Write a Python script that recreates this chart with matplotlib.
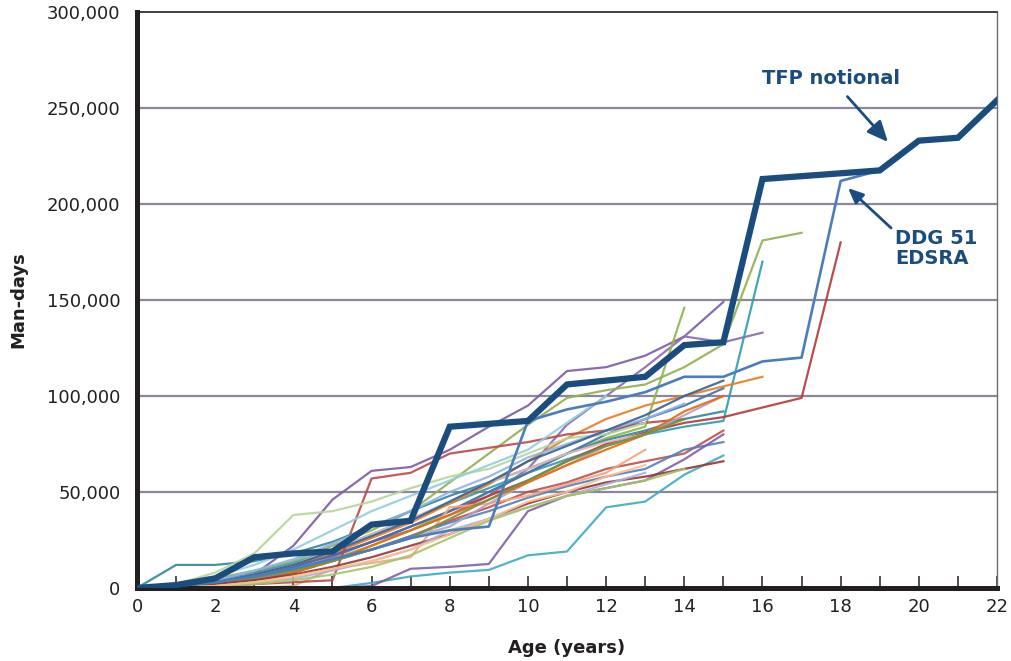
import matplotlib
matplotlib.use("Agg")
import matplotlib.pyplot as plt
from matplotlib.ticker import FuncFormatter, MultipleLocator

# ---- data (thousands of man-days by age in years) ----
tfp_notional = [0, 1.5, 5, 16, 18, 19, 33, 35, 84, 85.5, 87, 106, 108, 110, 126.5,
                128, 213, 214.5, 216, 217.5, 233, 234.5, 254]
ddg51_edsra = [0, 1, 3, 6, 10, 15, 20, 26, 30, 32, 87, 93, 97, 102, 110, 110,
               118, 120, 212, 217.5]

ships = [
    [0, 1, 3, 7, 22, 46, 61, 63, 72, 84, 95, 113, 115, 121, 131, 149],
    [0, 0, 2, 5, 9, 16, 24, 30, 38, 48, 62, 85, 100, 115, 131, 128, 133],
    [0, 2, 5, 9, 14, 22, 30, 40, 55, 70, 85, 99, 103, 106, 115, 127, 181, 185],
    [0, 2, 4, 8, 13, 20, 28, 36, 44, 52, 60, 67, 74, 80, 84, 87, 170],
    [0, 1, 3, 6, 11, 17, 24, 32, 40, 48, 56, 66, 75, 81, 86, 89, 94, 99, 180],
    [0, 1, 3, 7, 12, 18, 26, 34, 44, 54, 66, 78, 88, 95, 100, 105, 110],
    [0, 1, 3, 6, 10, 15, 22, 30, 40, 50, 60, 70, 78, 84, 146],
    [0, 1, 3, 6, 11, 17, 24, 32, 40, 50, 60, 70, 80, 88, 95, 104],
    [0, 0, 1, 4, 8, 14, 20, 27, 35, 42, 50, 55, 62, 66, 70, 82],
    [0, 1, 2, 5, 9, 14, 20, 27, 34, 40, 47, 53, 58, 62, 72, 76],
    [0, 0, 0, 0, 0, 0, 2.6, 6, 8, 9.4, 17, 19, 42, 45, 59, 69],
    [0, 0, 0, 0, 0, 0, 1, 10, 11, 12.5, 40, 48, 52, 56, 67, 80],
    [0, 0, 0, 0, 1, 10, 13, 16, 42, 44, 48, 54, 60, 72],
    [0, 0, 1, 2, 3, 4, 57, 60, 70, 73, 76, 80, 82, 86, 88],
    [0, 12, 12, 14, 18, 24, 32, 40, 48, 55, 62, 70, 77, 82, 88, 92],
    [0, 2, 8, 18, 38, 40, 45, 52, 58, 62, 70, 78, 80, 86],
    [0, 1, 4, 9, 15, 23, 32, 40, 50, 58, 68, 75, 82, 88, 96],
    [0, 1, 3, 7, 12, 20, 28, 36, 45, 55, 62, 70, 76, 80],
    [0, 1, 2, 5, 9, 14, 20, 26, 32, 44, 55, 64, 74, 80, 90, 100],
    [0, 0, 1, 3, 8, 14, 22, 30, 38, 46, 55, 64, 72, 80, 92, 100],
    [0, 2, 6, 12, 20, 30, 40, 48, 56, 64, 72, 86, 100],
    [0, 1, 3, 5, 9, 14, 20, 26, 36, 46, 56, 66, 74, 80, 88],
    [0, 1, 2, 4, 7, 11, 16, 22, 28, 36, 44, 50, 55, 58, 62, 66],
    [0, 0, 1, 3, 5, 9, 14, 20, 30, 36, 42, 48, 54, 60],
    [0, 0, 1, 2, 4, 7, 11, 17, 26, 35, 42, 48, 52, 56, 62],
    [0, 0, 1, 3, 6, 10, 14, 20, 28, 36, 45, 50, 58, 64],
    [0, 1, 3, 7, 12, 19, 27, 35, 45, 55, 66, 74, 82, 90, 100, 108],
]
ship_colors = [
    "#7B5BA6", "#8A6BB0", "#92B050", "#2E9BB4", "#B03A3A", "#E67E22",
    "#8DB64B", "#3F6FB5", "#C0504D", "#4F81BD", "#3FAAC6", "#7F5FA8",
    "#F4A57A", "#B84A4A", "#31859C", "#B7D59A", "#8EB4E3", "#E6B9B8",
    "#B3A2C7", "#E46C0A", "#93CDDD", "#77933C", "#953735", "#A6B5D0",
    "#A5C46A", "#FAC090", "#376092",
]

x_ticks = list(range(0, 23, 2))
y_ticks = [0, 50000, 100000, 150000, 200000, 250000, 300000]

navy = "#1B4C7E"

fig = plt.figure(figsize=(10.12, 6.61), dpi=100)
ax = fig.add_axes([0.1354, 0.1105, 0.8498, 0.8713])

for vals, c in zip(ships, ship_colors):
    xs = list(range(len(vals)))
    ax.plot(xs, [v * 1000 for v in vals], color=c, lw=1.6, alpha=0.9,
            solid_joinstyle="round", zorder=2)

ax.plot(range(len(ddg51_edsra)), [v * 1000 for v in ddg51_edsra],
        color="#4D7DB8", lw=1.9, zorder=3)
ax.plot(range(len(tfp_notional)), [v * 1000 for v in tfp_notional],
        color=navy, lw=4.5, zorder=4, solid_joinstyle="miter")

ax.set_xlim(0, 22)
ax.set_ylim(0, 300000)

for y in y_ticks[1:-1]:
    ax.axhline(y, color="#8A879C", lw=1.6, zorder=1)

ax.set_xticks(x_ticks)
ax.xaxis.set_minor_locator(MultipleLocator(1))
ax.set_yticks(y_ticks)
ax.yaxis.set_major_formatter(FuncFormatter(lambda v, p: f"{int(v):,}"))
ax.tick_params(axis="x", which="both", direction="in", length=8.5, width=1.1,
               color="#231F20", labelsize=13, pad=7, labelcolor="#231F20")
ax.tick_params(axis="y", length=0, labelsize=13, pad=12, labelcolor="#231F20")

for s in ("left", "bottom"):
    ax.spines[s].set_linewidth(3.6)
    ax.spines[s].set_color("#231F20")
ax.spines["top"].set_linewidth(1.2)
ax.spines["top"].set_color("#231F20")
ax.spines["right"].set_linewidth(1.0)
ax.spines["right"].set_color("#6E6E6E")

ax.set_xlabel("Age (years)", fontsize=13, fontweight="bold", labelpad=17,
              color="#231F20")
ax.set_ylabel("Man-days", fontsize=13, fontweight="bold", labelpad=14,
              color="#231F20")

ax.annotate("TFP notional", xy=(19.21, 232300), xytext=(17.75, 265600),
            ha="center", va="center", fontsize=14, fontweight="bold", color=navy,
            arrowprops=dict(arrowstyle="-|>,head_length=0.9,head_width=0.4",
                            color=navy, lw=2, shrinkA=6, shrinkB=0),
            zorder=6)
ax.annotate("", xy=(18.19, 208300), xytext=(19.29, 187500),
            arrowprops=dict(arrowstyle="-|>,head_length=0.9,head_width=0.4",
                            color=navy, lw=2, shrinkA=0, shrinkB=0), zorder=6)
ax.text(19.39, 187000, "DDG 51\nEDSRA", ha="left", va="top", fontsize=14,
        fontweight="bold", color=navy, linespacing=1.05, zorder=6)

fig.savefig("out.png", dpi=100)
